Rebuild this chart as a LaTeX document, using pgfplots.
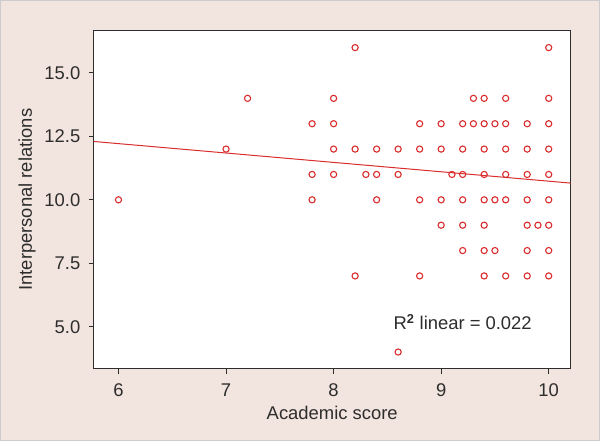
\documentclass[border=0pt]{standalone}
\usepackage{pgfplots}
\pgfplotsset{compat=1.18}
\usepackage{fontspec}
\setmainfont{Liberation Sans}
\definecolor{bgpink}{RGB}{242,228,222}
\definecolor{ptred}{RGB}{218,45,45}
\definecolor{framegray}{RGB}{45,45,45}
\begin{document}
\begin{tikzpicture}
\fill[bgpink,draw=black!20,line width=0.8bp] (-93.5bp,-72bp) rectangle (506.5bp,369bp);
\begin{axis}[
  at={(0,0)}, anchor=south west,
  scale only axis, width=477.5bp, height=339bp,
  xmin=5.77, xmax=10.204, ymin=3.335, ymax=16.68,
  axis background/.style={fill=white},
  axis line style={framegray, line width=1.1bp},
  xtick={6,7,8,9,10}, ytick={5,7.5,10,12.5,15},
  yticklabel style={/pgf/number format/fixed, /pgf/number format/fixed zerofill, /pgf/number format/precision=1, xshift=-5bp},
  tick pos=left, tick align=outside,
  major tick length=5bp,
  tick style={framegray, line width=1bp},
  /pgf/number format/assume math mode=true,
  every tick label/.style={font=\fontsize{18.5}{22}\selectfont, text=framegray},
  xticklabel style={yshift=-6bp},
  xlabel={Academic score}, ylabel={Interpersonal relations},
  label style={font=\fontsize{18.5}{22}\selectfont, text=framegray},
  xlabel style={yshift=-3bp},
  ylabel style={yshift=2bp},
  clip=false,
]
\addplot[only marks, mark=o, mark size=3.1bp, mark options={ptred, line width=1.1bp}] table {
x y
6 10
7 12
7.2 14
7.8 13
7.8 11
7.8 10
8 14
8 13
8 12
8 11
8.2 16
8.2 12
8.2 7
8.3 11
8.4 12
8.4 11
8.4 10
8.6 12
8.6 11
8.6 4
8.8 13
8.8 12
8.8 10
8.8 7
9 13
9 12
9 10
9 9
9.1 11
9.2 13
9.2 12
9.2 11
9.2 10
9.2 9
9.2 8
9.3 14
9.4 14
9.3 13
9.4 13
9.5 13
9.6 13
9.6 14
9.4 12
9.6 12
9.4 11
9.6 11
9.4 10
9.5 10
9.6 10
9.4 9
9.4 8
9.5 8
9.4 7
9.6 7
9.8 13
9.8 12
9.8 11
9.8 10
9.8 9
9.9 9
9.8 8
9.8 7
10 16
10 14
10 13
10 12
10 11
10 10
10 9
10 8
10 7
};
\addplot[ptred, line width=1bp] coordinates {(5.77,12.30) (10.204,10.66)};
\node[font=\fontsize{18.5}{22}\selectfont, text=framegray] at (axis cs:9.2,5.18) {R\textsuperscript{\bfseries 2} linear = 0.022};
\end{axis}
\end{tikzpicture}
\end{document}
